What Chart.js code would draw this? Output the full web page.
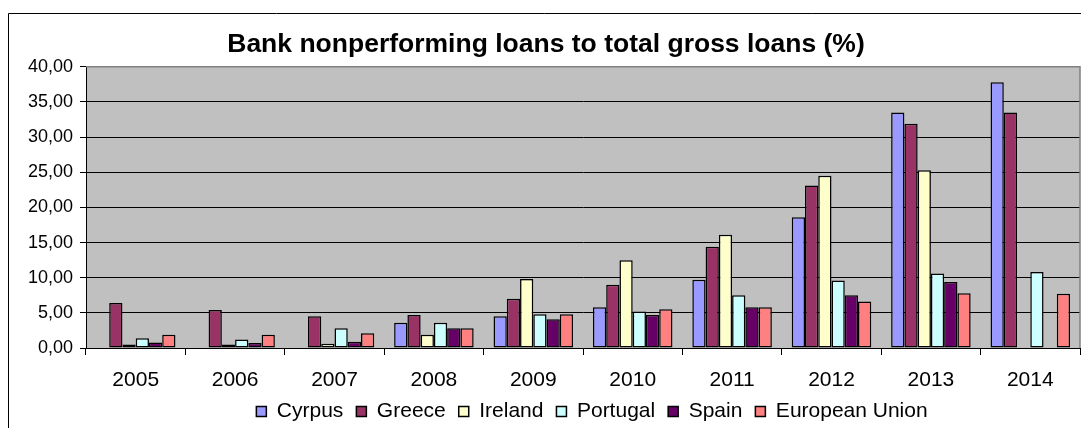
<!DOCTYPE html>
<html>
<head>
<meta charset="utf-8">
<script src="https://cdn.jsdelivr.net/npm/chart.js@4/dist/chart.umd.min.js"></script>
<style>
  html, body { margin: 0; padding: 0; background: #fff; overflow: hidden; }
  #chart { display: block; }
</style>
</head>
<body>
<canvas id="chart" width="1081" height="428"></canvas>
<script>
var years = ['2005', '2006', '2007', '2008', '2009', '2010', '2011', '2012', '2013', '2014'];

// NPL ratios in percent, null where no figure was published
var cyprus   = [null, null, null, 3.6, 4.5, 5.8, 9.7, 18.6, 33.5, 37.8];
var greece   = [6.4, 5.4, 4.5, 4.7, 7.0, 9.0, 14.4, 23.1, 31.9, 33.5];
var ireland  = [0.5, 0.5, 0.6, 1.9, 9.8, 12.5, 16.1, 24.5, 25.3, null];
var portugal = [1.4, 1.2, 2.8, 3.6, 4.8, 5.2, 7.5, 9.6, 10.6, 10.8];
var spain    = [0.8, 0.7, 0.9, 2.8, 4.1, 4.7, 5.8, 7.5, 9.4, null];
var eu       = [1.9, 1.9, 2.1, 2.8, 4.8, 5.5, 5.8, 6.6, 7.8, 7.7];

var yTicks = [0, 5, 10, 15, 20, 25, 30, 35, 40];

var fontFamily = "'Liberation Sans', Arial, sans-serif";
Chart.defaults.font.family = fontFamily;
Chart.defaults.color = '#000';

function series(label, data, color) {
    return {
        label: label,
        data: data,
        backgroundColor: color,
        borderColor: '#000',
        borderWidth: 1.5,
        borderSkipped: false,
        barPercentage: 1.0,
        categoryPercentage: 0.8
    };
}

// outer frame, grey plot area, grey edge on top and right of the plot
var plotBackground = {
    id: 'plotBackground',
    beforeDraw: function(chart) {
        var a = chart.chartArea;
        var ctx = chart.ctx;
        ctx.save();
        ctx.fillStyle = '#c0c0c0';
        ctx.fillRect(a.left, a.top, a.right - a.left, a.bottom - a.top);
        ctx.strokeStyle = '#000';
        ctx.lineWidth = 1;
        ctx.beginPath();
        ctx.moveTo(8.5, chart.height);
        ctx.lineTo(8.5, 13.5);
        ctx.lineTo(chart.width, 13.5);
        ctx.stroke();
        ctx.restore();
    },
    afterDraw: function(chart) {
        var a = chart.chartArea;
        var ctx = chart.ctx;
        ctx.save();
        ctx.strokeStyle = '#808080';
        ctx.lineWidth = 1.5;
        ctx.beginPath();
        ctx.moveTo(a.left, a.top);
        ctx.lineTo(a.right, a.top);
        ctx.lineTo(a.right, a.bottom);
        ctx.stroke();
        ctx.restore();
    }
};

// keep the legend strip short and nudge legend and title to the right
var boxShift = {
    id: 'boxShift',
    afterInit: function(chart) {
        var legend = chart.legend;
        var fit = legend.fit;
        legend.fit = function() {
            fit.call(this);
            this.height = 40;
        };
    },
    afterLayout: function(chart) {
        chart.legend.left += 52;
        chart.legend.right += 52;
        chart.titleBlock.left += 6;
        chart.titleBlock.right += 6;
    }
};

var ctx = document.getElementById('chart').getContext('2d');

var chart = new Chart(ctx, {
    type: 'bar',
    data: {
        labels: years,
        datasets: [
            series('Cyrpus', cyprus, '#9999ff'),
            series('Greece', greece, '#993366'),
            series('Ireland', ireland, '#ffffcc'),
            series('Portugal', portugal, '#ccffff'),
            series('Spain', spain, '#660066'),
            series('European Union', eu, '#ff8080')
        ]
    },
    options: {
        responsive: false,
        animation: false,
        layout: { padding: { top: 29, left: 0, right: 1, bottom: 0 } },
        plugins: {
            title: {
                display: true,
                text: 'Bank nonperforming loans to total gross loans (%)',
                font: { size: 26.5, weight: 'bold' },
                color: '#000',
                padding: { top: 0, bottom: 6 }
            },
            legend: {
                position: 'bottom',
                labels: {
                    boxWidth: 10,
                    boxHeight: 10,
                    padding: 13,
                    font: { size: 21 },
                    color: '#000'
                }
            },
            tooltip: { enabled: false }
        },
        scales: {
            x: {
                offset: true,
                grid: { offset: true, drawOnChartArea: false, drawTicks: true, tickLength: 7, color: '#000' },
                border: { display: true, color: '#000', width: 1 },
                ticks: { font: { size: 21 }, color: '#000', padding: 13, maxRotation: 0, autoSkip: false },
                afterFit: function(scale) { scale.height = 40; }
            },
            y: {
                min: 0,
                max: 40,
                afterBuildTicks: function(scale) {
                    scale.ticks = yTicks.map(function(v) { return { value: v }; });
                },
                grid: {
                    color: function(c) { return c.tick && c.tick.value === 40 ? 'rgba(0,0,0,0)' : '#000'; },
                    tickColor: '#000',
                    tickLength: 6
                },
                border: { display: true, color: '#000', width: 1 },
                ticks: {
                    font: { size: 18 },
                    color: '#000',
                    padding: 7,
                    callback: function(v) { return Number(v).toFixed(2).replace('.', ','); }
                },
                afterFit: function(scale) { scale.width = 86; }
            }
        }
    },
    plugins: [plotBackground, boxShift]
});
</script>
</body>
</html>
